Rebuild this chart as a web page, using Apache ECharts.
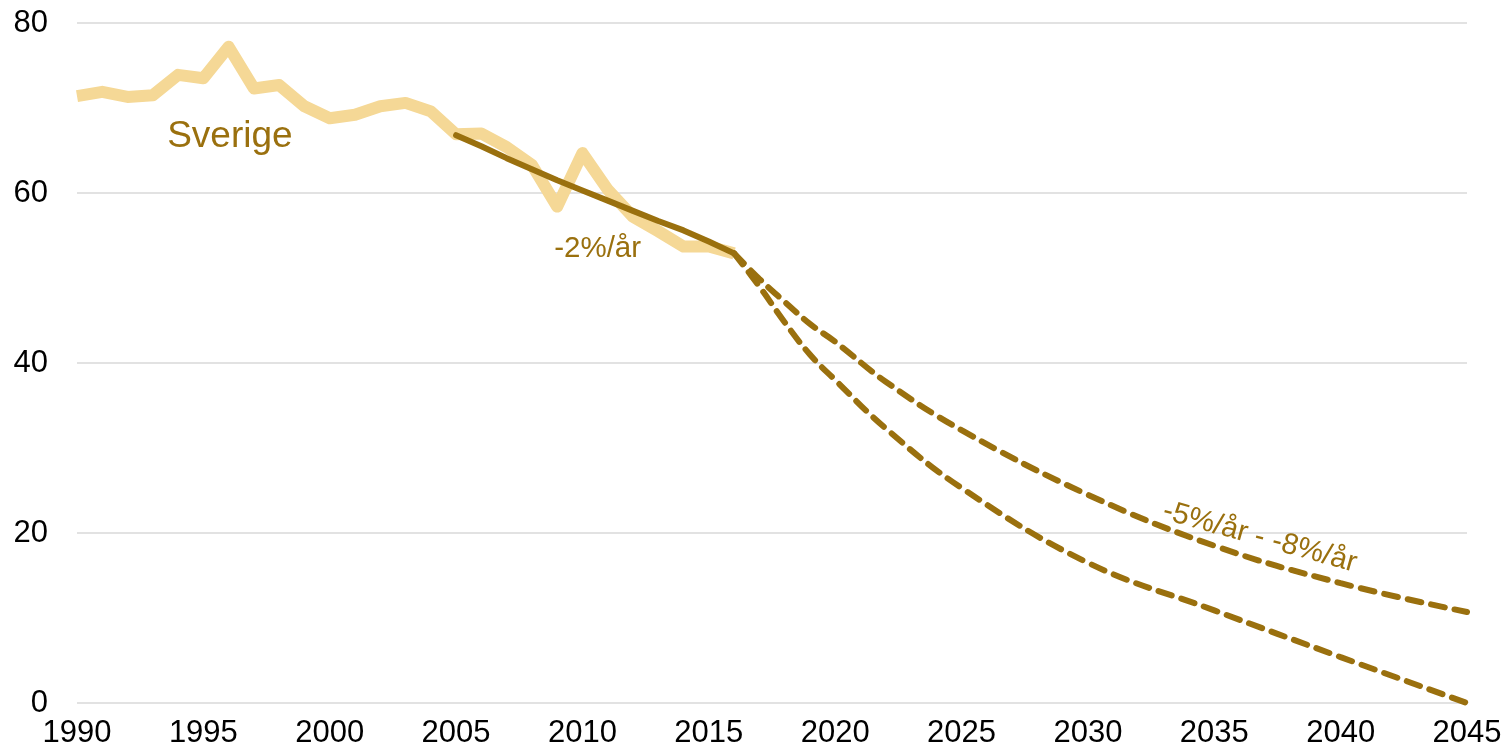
<!DOCTYPE html>
<html lang="sv">
<head>
<meta charset="UTF-8">
<title>Sverige</title>
<script src="https://cdn.jsdelivr.net/npm/echarts@6/dist/echarts.min.js"></script>
<style>
	html,body{margin:0;padding:0;background:#fff;}
	#chart{width:1506px;height:756px;}
</style>
</head>
<body>
<div id="chart"></div>
<script>
// historiska värden
var years = [1990,1991,1992,1993,1994,1995,1996,1997,1998,1999,2000,2001,2002,2003,2004,2005,2006,2007,2008,2009,2010,2011,2012,2013,2014,2015,2016];
var sverige = [71.4,71.9,71.3,71.5,73.9,73.5,77.2,72.3,72.7,70.2,68.8,69.2,70.2,70.6,69.6,66.9,67.0,65.4,63.3,58.4,64.7,60.4,57.2,55.5,53.7,53.7,52.9];

// trend -2%/år
var trendYears = [2005,2006,2007,2008,2009,2010,2011,2012,2013,2014,2015,2016];
var trend = [66.8,65.5,64.1,62.8,61.5,60.3,59.1,57.9,56.7,55.6,54.3,52.9];

// prognoser
var progYears = [2016,2017,2018,2019,2020,2022,2025,2030,2035,2040,2045];
var prog5 = [52.9,49.9,47.2,44.6,42.5,37.8,32.1,24.5,18.5,14.1,10.7];
var prog8 = [52.9,49.0,44.8,41.0,38.0,32.3,25.3,16.5,10.9,5.4,0];

var yTicks = [0,20,40,60,80];

// texter och var de sitter (år, värde)
var notes = [
	{text:'Sverige', at:[1996.05,66.6], size:37, rot:0},
	{text:'-2%/år', at:[2010.6,53.4], size:29.5, rot:0},
	{text:'-5%/år - -8%/år', at:[2036.8,19.5], size:29.5, rot:-15.5}
];

var light = '#F5D896';
var dark = '#9A700E';
var font = 'Liberation Sans, Arial, sans-serif';

function pairs(xs, ys){
	var out = [];
	for(var i=0;i<xs.length;i++){ out.push([xs[i], ys[i]]); }
	return out;
}

var chart = echarts.init(document.getElementById('chart'));
var option = {
	animation:false,
	grid:{left:77,right:39,top:23,bottom:53,containLabel:false},
	xAxis:{
		type:'value',min:1990,max:2045,interval:5,
		axisLine:{show:false},
		axisTick:{show:false},
		splitLine:{show:false},
		axisLabel:{
			color:'#000',fontSize:31,fontFamily:font,margin:15,
			formatter:function(v){return String(v);}
		}
	},
	yAxis:{
		type:'value',min:yTicks[0],max:yTicks[yTicks.length-1],interval:20,
		axisLine:{show:false},
		axisTick:{show:false},
		splitLine:{lineStyle:{color:'#d9d9d9',width:1.5}},
		axisLabel:{color:'#000',fontSize:31,fontFamily:font,margin:29}
	},
	series:[
		{
			type:'line',data:pairs(years,sverige),symbol:'none',
			lineStyle:{color:light,width:12,join:'round'},z:2
		},
		{
			type:'line',data:pairs(trendYears,trend),symbol:'none',
			lineStyle:{color:dark,width:6,cap:'round'},z:3
		},
		{
			type:'line',data:pairs(progYears,prog5),symbol:'none',smooth:0.4,
			lineStyle:{color:dark,width:6,type:[14,10],cap:'round'},z:3
		},
		{
			type:'line',data:pairs(progYears,prog8),symbol:'none',smooth:0.4,
			lineStyle:{color:dark,width:6,type:[14,10],cap:'round'},z:3
		}
	]
};
chart.setOption(option);

// placera texterna via axlarnas skalor
var g = [];
notes.forEach(function(n){
	var p = chart.convertToPixel({gridIndex:0}, n.at);
	g.push({
		type:'text',x:p[0],y:p[1],rotation:n.rot*Math.PI/180,
		style:{text:n.text,fill:dark,fontSize:n.size,fontFamily:font,
			align:'center',verticalAlign:'middle'},
		z:10
	});
});
chart.setOption({graphic:g});
</script>
</body>
</html>
